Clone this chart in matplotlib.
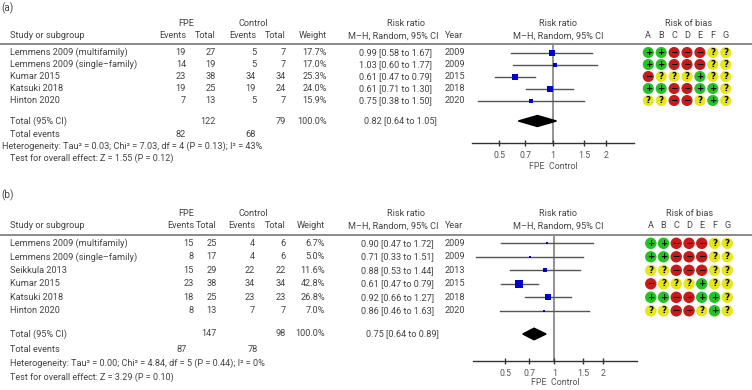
import matplotlib
matplotlib.use("Agg")
import matplotlib.pyplot as plt
import numpy as np
from matplotlib.patches import Polygon

plt.rcParams['font.family'] = ['Roboto', 'DejaVu Sans']

# ---------------- data: panel (a) ----------------
studies_a = ["Lemmens 2009 (multifamily)", "Lemmens 2009 (single\u2013family)", "Kumar 2015",
             "Katsuki 2018", "Hinton 2020"]
fpe_events_a = [19, 14, 23, 19, 7]
fpe_total_a = [27, 19, 38, 25, 13]
ctl_events_a = [5, 5, 34, 19, 5]
ctl_total_a = [7, 7, 34, 24, 7]
weight_a = [17.7, 17.0, 25.3, 24.0, 15.9]
rr_text_a = ["0.99 [0.58 to 1.67]", "1.03 [0.60 to 1.77]", "0.61 [0.47 to 0.79]",
             "0.61 [0.71 to 1.30]", "0.75 [0.38 to 1.50]"]
rr_a = [0.99, 1.03, 0.61, 0.96, 0.75]
lo_a = [0.58, 0.60, 0.47, 0.71, 0.38]
hi_a = [1.67, 1.77, 0.79, 1.30, 1.50]
year_a = [2009, 2009, 2015, 2018, 2020]
rob_a = ["++---??", "++---??", "-???+??", "++--++?", "??--?+?"]
total_a = dict(fpe_total=122, ctl_total=79, weight="100.0%", rr=0.82, lo=0.64, hi=1.05,
               rr_text="0.82 [0.64 to 1.05]", fpe_events=82, ctl_events=68,
               het="Heterogeneity: Tau\u00b2 = 0.03; Chi\u00b2 = 7.03, df = 4 (P = 0.13); I\u00b2 = 43%",
               test="Test for overall effect: Z = 1.55 (P = 0.12)")

# ---------------- data: panel (b) ----------------
studies_b = ["Lemmens 2009 (multifamily)", "Lemmens 2009 (single\u2013family)", "Seikkula 2013",
             "Kumar 2015", "Katsuki 2018", "Hinton 2020"]
fpe_events_b = [15, 8, 15, 23, 18, 8]
fpe_total_b = [25, 17, 29, 38, 25, 13]
ctl_events_b = [4, 4, 22, 34, 23, 7]
ctl_total_b = [6, 6, 22, 34, 23, 7]
weight_b = [6.7, 5.0, 11.6, 42.8, 26.8, 7.0]
rr_text_b = ["0.90 [0.47 to 1.72]", "0.71 [0.33 to 1.51]", "0.88 [0.53 to 1.44]",
             "0.61 [0.47 to 0.79]", "0.92 [0.66 to 1.27]", "0.86 [0.46 to 1.63]"]
rr_b = [0.90, 0.71, 0.88, 0.61, 0.92, 0.86]
lo_b = [0.47, 0.33, 0.53, 0.47, 0.66, 0.46]
hi_b = [1.72, 1.51, 1.44, 0.79, 1.27, 1.63]
year_b = [2009, 2009, 2013, 2015, 2018, 2020]
rob_b = ["++---??", "++---??", "??---??", "-???+??", "++--++?", "??--?+?"]
total_b = dict(fpe_total=147, ctl_total=98, weight="100.0%", rr=0.75, lo=0.64, hi=0.89,
               rr_text="0.75 [0.64 to 0.89]", fpe_events=87, ctl_events=78,
               het="Heterogeneity: Tau\u00b2 = 0.00; Chi\u00b2 = 4.84, df = 5 (P = 0.44); I\u00b2 = 0%",
               test="Test for overall effect: Z = 3.29 (P = 0.10)")

tick_vals = [0.5, 0.7, 1, 1.5, 2]
tick_labels = ["0.5", "0.7", "1", "1.5", "2"]
rob_letters = list("ABCDEFG")

TXT = '#444444'
W, H = 752, 390

fig = plt.figure(figsize=(W / 100, H / 100), dpi=100)
renderer = fig.canvas.get_renderer()


def fit_size(s, target_px):
    """font size (pt) that makes string s about target_px wide"""
    tx = fig.text(0, 0, s, fontsize=10)
    w = tx.get_window_extent(renderer).width
    tx.remove()
    return 10.0 * target_px / w


# one common size for the table, chosen from the widths of several reference texts
FS = float(np.mean([fit_size("Lemmens 2009 (multifamily)", 112),
                    fit_size("Study or subgroup", 77),
                    fit_size("0.99 [0.58 to 1.67]", 71),
                    fit_size("M\u2013H, Random, 95% CI", 91),
                    fit_size("Risk of bias", 47)]))
FS_HET = min(FS, fit_size(total_a['het'], 267))
FS_TEST = min(FS, fit_size(total_a['test'], 163))
FS_TICK = fit_size("0.5", 12)
FS_XL = fit_size("FPE  Control", 49)

lay = fig.add_axes([0, 0, 1, 1])
lay.set_xlim(0, W)
lay.set_ylim(H, 0)
lay.axis('off')

ROB_COL = {'+': '#22c322', '-': '#c81a1a', '?': '#e6e619'}
ROB_SYM = {'+': '+', '-': '\u2212', '?': '?'}


def t(x, y, s, ha='left', fs=None, color=TXT, **kw):
    lay.text(x, y, s, ha=ha, va='center', fontsize=FS if fs is None else fs, color=color, **kw)


def panel(L, label, studies, fe, ft, ce, ct, wt, rrt, rr, lo, hi, yr, rob, tot):
    n = len(studies)
    ry = [L['row0'] + i * L['dy'] for i in range(n)]
    t(1, L['label_y'], label, fs=FS * 1.1)
    # headers
    t(L['fpe_hc'], L['h1'], "FPE", ha='center')
    t(L['ctl_hc'], L['h1'], "Control", ha='center')
    t(L['rr_hc'], L['h1'], "Risk ratio", ha='center')
    t(L['name_x'], L['h2'], "Study or subgroup")
    t(L['ev1'], L['h2'], "Events", ha='right')
    t(L['tot1'], L['h2'], "Total", ha='right')
    t(L['ev2'], L['h2'], "Events", ha='right')
    t(L['tot2'], L['h2'], "Total", ha='right')
    t(L['w'], L['h2'], "Weight", ha='right')
    t(L['mh_r'], L['h2'], "M\u2013H, Random, 95% CI", ha='right')
    t(L['year'], L['h2'], "Year")
    t(L['f_c'], L['h1'], "Risk ratio", ha='center')
    t(L['f_c'], L['h2'], "M\u2013H, Random, 95% CI", ha='center')
    t(L['rob_c'], L['h1'], "Risk of bias", ha='center')
    lay.plot([0, W], [L['line'], L['line']], color='#8a8a8a', lw=1.4, solid_capstyle='butt')
    # rows
    for i in range(n):
        y = ry[i]
        t(L['name_x'], y, studies[i])
        t(L['ev1'], y, str(fe[i]), ha='right')
        t(L['tot1'], y, str(ft[i]), ha='right')
        t(L['ev2'], y, str(ce[i]), ha='right')
        t(L['tot2'], y, str(ct[i]), ha='right')
        t(L['w'], y, f"{wt[i]:.1f}%", ha='right')
        t(L['rr_r'], y, rrt[i], ha='right')
        t(L['year'], y, str(yr[i]))
    t(L['name_x'], L['total_y'], "Total (95% CI)")
    t(L['tot1'], L['total_y'], str(tot['fpe_total']), ha='right')
    t(L['tot2'], L['total_y'], str(tot['ctl_total']), ha='right')
    t(L['w'], L['total_y'], tot['weight'], ha='right')
    t(L['rr_r'] + 5, L['total_y'], tot['rr_text'], ha='right')
    t(L['name_x'], L['ev_y'], "Total events")
    t(L['evt1'], L['ev_y'], str(tot['fpe_events']), ha='right')
    t(L['evt2'], L['ev_y'], str(tot['ctl_events']), ha='right')
    t(L['het_x'], L['het_y'], tot['het'], fs=FS_HET)
    t(L['name_x'], L['test_y'], tot['test'], fs=FS_TEST)

    # forest plot axes
    fx0, fx1 = L['fx']
    top, bot = L['line'], L['axis_y']
    ax = fig.add_axes([fx0 / W, 1 - bot / H, (fx1 - fx0) / W, (bot - top) / H])
    ax.set_xscale('log')
    ax.set_xlim(*L['xlim'])
    idx_bot = (bot - L['row0']) / L['dy']
    idx_top = (top - L['row0']) / L['dy']
    ax.set_ylim(idx_bot, idx_top)
    ax.patch.set_alpha(0)
    for s in ['top', 'left', 'right']:
        ax.spines[s].set_visible(False)
    ax.spines['bottom'].set_color('#333333')
    ax.spines['bottom'].set_linewidth(1.0)
    ax.set_yticks([])
    ax.set_xticks(tick_vals)
    ax.set_xticklabels(tick_labels)
    ax.minorticks_off()
    ax.tick_params(axis='x', direction='inout', length=5, width=1, color='#333333',
                   labelsize=FS_TICK, labelcolor='#555555', pad=3)
    ax.set_xlabel("FPE  Control", fontsize=FS_XL, color='#555555', labelpad=L['xlpad'])
    ax.axvline(1, color='#8a8a8a', lw=1.3, zorder=1)
    wmax = max(wt)
    for i in range(n):
        ax.plot([lo[i], hi[i]], [i, i], color='#555555', lw=1.0, zorder=2)
        side_pt = L['sq'] * np.sqrt(wt[i] / wmax) * 0.72
        ax.plot([rr[i]], [i], marker='s', ms=max(side_pt, 2.0), color='#0000cc', mew=0, zorder=3)
    ti = (L['total_y'] - L['row0']) / L['dy']
    hh = L['dh']
    ax.add_patch(Polygon([[tot['lo'], ti], [tot['rr'], ti - hh], [tot['hi'], ti], [tot['rr'], ti + hh]],
                         closed=True, color='black', zorder=3))

    # risk of bias axes
    rx0, rx1 = L['rob_x']
    rax = fig.add_axes([rx0 / W, 1 - bot / H, (rx1 - rx0) / W, (bot - top) / H])
    rax.set_xlim(-0.5, 6.5)
    rax.set_ylim(idx_bot, idx_top)
    rax.axis('off')
    for j, letter in enumerate(rob_letters):
        rax.text(j, (L['h2'] - L['row0']) / L['dy'], letter, ha='center', va='center',
                 fontsize=FS, color=TXT, clip_on=False)
    for i, r in enumerate(rob):
        for j, c in enumerate(r):
            rax.scatter([j], [i], s=L['circ'], color=ROB_COL[c], edgecolors='none', zorder=2)
            rax.text(j, i, ROB_SYM[c], ha='center', va='center', fontsize=6.3,
                     fontweight='bold', color='black', zorder=3, family='DejaVu Sans')


LA = dict(label_y=8, h1=24, h2=36, line=44, row0=52.5, dy=12.0, total_y=121, ev_y=134.5,
          het_y=146, test_y=158, axis_y=143, name_x=10, ev1=186, tot1=216, ev2=256, tot2=286,
          w=327, rr_r=432, mh_r=439, year=445, fpe_hc=186, ctl_hc=253, rr_hc=406, f_c=558,
          rob_c=689, het_x=2, fx=(471.7, 634.3), xlim=(0.349, 2.89), sq=6.0, dh=0.46,
          circ=64, evt1=186, evt2=256, xlpad=1.5)
LA['rob_x'] = (648.3 - 6.45, 725.7 + 6.45)

LB = dict(label_y=195, h1=214, h2=226, line=235, row0=243.3, dy=13.5, total_y=334, ev_y=349.3,
          het_y=363.3, test_y=377.7, axis_y=361, name_x=10, ev1=194, tot1=217, ev2=255, tot2=286,
          w=325, rr_r=434, mh_r=439, year=445, fpe_hc=186, ctl_hc=253.5, rr_hc=406, f_c=558,
          rob_c=690, het_x=10, fx=(473.3, 636.7), xlim=(0.317, 3.22), sq=7.3, dh=0.43,
          circ=68, evt1=187, evt2=258, xlpad=0.3)
LB['rob_x'] = (651 - 6.6, 727 + 6.6)

panel(LA, "(a)", studies_a, fpe_events_a, fpe_total_a, ctl_events_a, ctl_total_a, weight_a,
      rr_text_a, rr_a, lo_a, hi_a, year_a, rob_a, total_a)
panel(LB, "(b)", studies_b, fpe_events_b, fpe_total_b, ctl_events_b, ctl_total_b, weight_b,
      rr_text_b, rr_b, lo_b, hi_b, year_b, rob_b, total_b)

fig.savefig("out.png", dpi=100)
